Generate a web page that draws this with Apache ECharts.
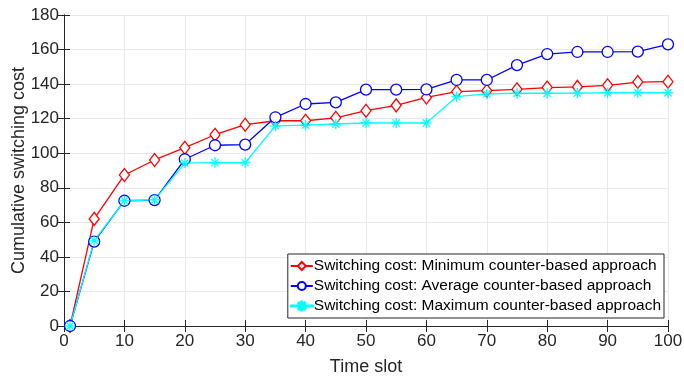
<!DOCTYPE html>
<html><head><meta charset="utf-8">
<script src="https://cdn.jsdelivr.net/npm/echarts@6/dist/echarts.min.js"></script>
<style>html,body{margin:0;padding:0;background:#fff}#c{width:684px;height:376px}</style>
</head><body><div id="c"></div>
<script>
const timeSlots = [1,5,10,15,20,25,30,35,40,45,50,55,60,65,70,75,80,85,90,95,100];
const minCost = [0,62,87.4,96.1,103.2,110.7,116.5,118.8,118.8,120.5,124.6,127.7,132.3,135.6,136.2,137,138,138.4,139.3,141.2,141.4];
const avgCost = [0,48.8,72.5,72.9,96.5,104.6,105,120.8,128.5,129.4,136.8,136.8,136.9,142.4,142.4,151,157.4,158.6,158.6,158.8,163];
const maxCost = [0,49.4,72.5,73,94.3,94.5,94.5,115.8,116.3,116.9,117.5,117.5,117.5,132.7,134.3,134.7,134.7,134.8,135,135,135];
const seriesNames = ['Switching cost: Minimum counter-based approach','Switching cost: Average counter-based approach','Switching cost: Maximum counter-based approach'];
const xTicks = [0,10,20,30,40,50,60,70,80,90,100];
const yTicks = [0,20,40,60,80,100,120,140,160,180];

const star = 'path://M1,-10L-1,-10L-1,10L1,10Z M-10,-1L-10,1L10,1L10,-1Z M-6.36,-7.78L-7.78,-6.36L6.36,7.78L7.78,6.36Z M-7.78,6.36L-6.36,7.78L7.78,-6.36L6.36,-7.78Z';
const starLegend = 'path://M0,4.4L0,5.6L24,5.6L24,4.4Z M12.6,0L11.4,0L11.4,10L12.6,10Z M8.88,1.04L8.04,1.88L15.12,8.96L15.96,8.12Z M8.04,8.12L8.88,8.96L15.96,1.88L15.12,1.04Z';
const pair = a => timeSlots.map((x,i)=>[x,a[i]]);
const axisCol = '#262626';
const font = 'Liberation Sans, Arial, sans-serif';
const chart = echarts.init(document.getElementById('c'));
const baseX = {type:'value',min:0,max:100,interval:10,
  axisLine:{show:true,lineStyle:{color:axisCol,width:1}},
  axisTick:{show:true,inside:true,length:6,lineStyle:{color:axisCol}},
  splitLine:{show:false}};
const baseY = {type:'value',min:0,max:180,interval:20,
  axisLine:{show:true,lineStyle:{color:axisCol,width:1}},
  axisTick:{show:true,inside:true,length:6,lineStyle:{color:axisCol}},
  splitLine:{show:false}};
chart.setOption({
  animation:false,
  backgroundColor:'#fff',
  grid:{left:64,right:16,top:15,bottom:50,containLabel:false,outerBoundsMode:'none'},
  xAxis:[
    Object.assign({},baseX,{position:'bottom',name:'Time slot',nameLocation:'middle',nameGap:32,nameMoveOverlap:false,
      nameTextStyle:{fontSize:18,color:axisCol,fontFamily:font},
      axisLabel:{fontSize:17,color:axisCol,fontFamily:font,margin:7,
        formatter:v=>xTicks.includes(v)?String(v):''},
      splitLine:{show:true,lineStyle:{color:'#e8e8e8',width:1}}}),
    Object.assign({},baseX,{position:'top',axisLabel:{show:false}})
  ],
  yAxis:[
    Object.assign({},baseY,{position:'left',name:'Cumulative switching cost',nameLocation:'middle',nameGap:36,nameMoveOverlap:false,
      nameTextStyle:{fontSize:18,color:axisCol,fontFamily:font},
      axisLabel:{fontSize:17,color:axisCol,fontFamily:font,margin:5,
        formatter:v=>yTicks.includes(v)?String(v):''},
      splitLine:{show:true,lineStyle:{color:'#e8e8e8',width:1}}}),
    Object.assign({},baseY,{position:'right',axisLabel:{show:false}})
  ],
  legend:{
    orient:'vertical',right:20,bottom:58,
    backgroundColor:'#fff',borderColor:axisCol,borderWidth:1,borderRadius:0,
    padding:[2,3,2,2],itemGap:0,itemWidth:22,itemHeight:10,
    textStyle:{fontSize:15.5,lineHeight:20,color:'#000',fontFamily:font,padding:[0,0,0,-4]},
    data:[{name:seriesNames[0]},{name:seriesNames[1]},{name:seriesNames[2],icon:starLegend}]
  },
  series:[
    {name:seriesNames[0],type:'line',data:pair(minCost),symbol:'diamond',symbolSize:[10,13],
      showAllSymbol:true,
      lineStyle:{color:'#ff0000',width:1.3},itemStyle:{color:'#fff',borderColor:'#ff0000',borderWidth:1.3},color:'#ff0000'},
    {name:seriesNames[1],type:'line',data:pair(avgCost),symbol:'circle',symbolSize:11,
      showAllSymbol:true,
      lineStyle:{color:'#0000ff',width:1.3},itemStyle:{color:'#fff',borderColor:'#0000ff',borderWidth:1.3},color:'#0000ff'},
    {name:seriesNames[2],type:'line',data:pair(maxCost),symbol:star,symbolSize:10,
      showAllSymbol:true,
      lineStyle:{color:'#00ffff',width:1.3},itemStyle:{color:'#00ffff',borderColor:'#00ffff',borderWidth:0.3},color:'#00ffff'}
  ]
});
</script></body></html>
